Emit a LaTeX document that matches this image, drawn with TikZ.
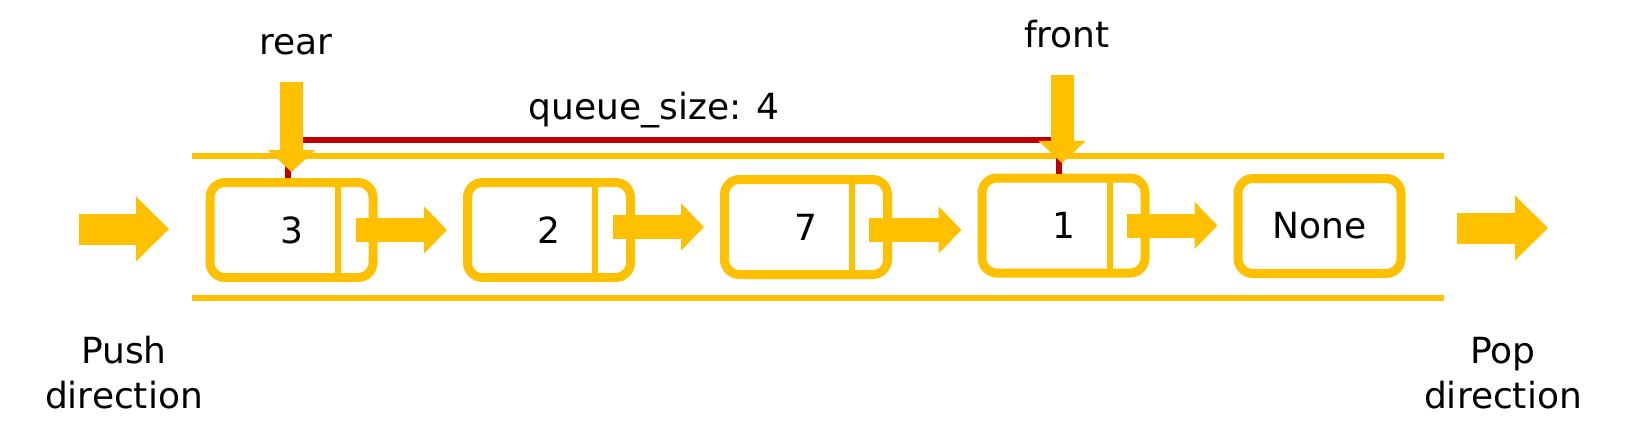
\documentclass[tikz,border=0pt]{standalone}
\usepackage{fontspec}
\setmainfont{DejaVu Sans}
\usetikzlibrary{arrows.meta}
\definecolor{yel}{HTML}{FFC000}
\definecolor{redl}{HTML}{C00000}
\tikzset{
  lbl/.style={font=\fontsize{36}{44}\selectfont, text=black, inner sep=0},
  cell/.style={draw=yel, line width=9pt, rounded corners=15pt, minimum width=163pt, minimum height=95pt, fill=white, inner sep=0, font=\fontsize{36}{44}\selectfont},
  blk/.style={draw=yel, line width=31pt, -{Triangle[length=33pt,width=63pt]}},
  nblk/.style={draw=yel, line width=24pt, -{Triangle[length=23pt,width=46pt]}},
  vblk/.style={draw=yel, line width=23pt, -{Triangle[length=22pt,width=46pt]}},
  rail/.style={draw=yel, line width=6pt},
  sizeline/.style={draw=redl, line width=6pt},
  divider/.style={draw=yel, line width=6pt}
}
\begin{document}
\begin{tikzpicture}[x=1pt,y=-1pt]
\useasboundingbox (0,0) rectangle (1627,441);
% rails
\coordinate (t0) at (192,155.5);
\coordinate (t1) at (1444,155.5);
\coordinate (b0) at (192,298);
\coordinate (b1) at (1444,298);
\draw[rail] (t0) -- (t1);
\draw[rail] (b0) -- (b1);
% cells
\node[cell] (n1) at (291.5,230) {3};
\node[cell] (n2) at (549,230) {2};
\node[cell] (n3) at (806,227) {7};
\node[cell] (n4) at (1063.5,225.5) {1};
\node[cell] (n5) at (1319.5,226) {None};
\foreach \n in {n1,n2,n3,n4}{
  \draw[divider] ([xshift=-40pt,yshift=-5pt]\n.north east) -- ([xshift=-40pt,yshift=5pt]\n.south east);
}
% red size path
\draw[sizeline] ([xshift=-4pt]n1.north) -- ++(0,-38) -| ([xshift=-4.5pt]n4.north);
% next arrows
\coordinate (s1) at ([xshift=-22pt]n1.east);
\coordinate (s2) at ([xshift=-22pt,yshift=3pt]n2.east);
\coordinate (s3) at ([xshift=-23pt,yshift=-3pt]n3.east);
\coordinate (s4) at ([xshift=-23pt]n4.east);
\coordinate (e2) at ([xshift=-16pt]n2.west);
\coordinate (e3) at ([xshift=-16pt]n3.west);
\coordinate (e4) at ([xshift=-16pt]n4.west);
\coordinate (e5) at ([xshift=-16pt]n5.west);
\draw[nblk] (s1) -- (e2 |- s1);
\draw[nblk] (s2) -- (e3 |- s2);
\draw[nblk] (s3) -- (e4 |- s3);
\draw[nblk] (s4) -- (e5 |- s4);
% push / pop
\coordinate (ps) at (79,229);
\coordinate (pe) at (169,229);
\draw[blk] (ps) -- (pe);
\coordinate (qs) at (1457,228);
\coordinate (qe) at (1548,228);
\draw[blk] (qs) -- (qe);
% rear / front
\node[lbl, anchor=base] (rear) at (296,55) {rear};
\node[lbl, anchor=base] (front) at (1067,48) {front};
\coordinate (rs) at (291.5,82);
\coordinate (re) at (291.5,172);
\draw[vblk] (rs) -- (re);
\coordinate (fs) at (1062,75);
\coordinate (fe) at (1062,163);
\draw[vblk] (fs) -- (fe);
\node[lbl, anchor=base] (qsz) at (654,120) {queue\_size: 4};
\node[lbl, anchor=base] (push1) at (124,363) {Push};
\node[lbl, anchor=base] (push2) at (124,408) {direction};
\node[lbl, anchor=base] (pop1) at (1503,363) {Pop};
\node[lbl, anchor=base] (pop2) at (1503,408) {direction};
\end{tikzpicture}
\end{document}
